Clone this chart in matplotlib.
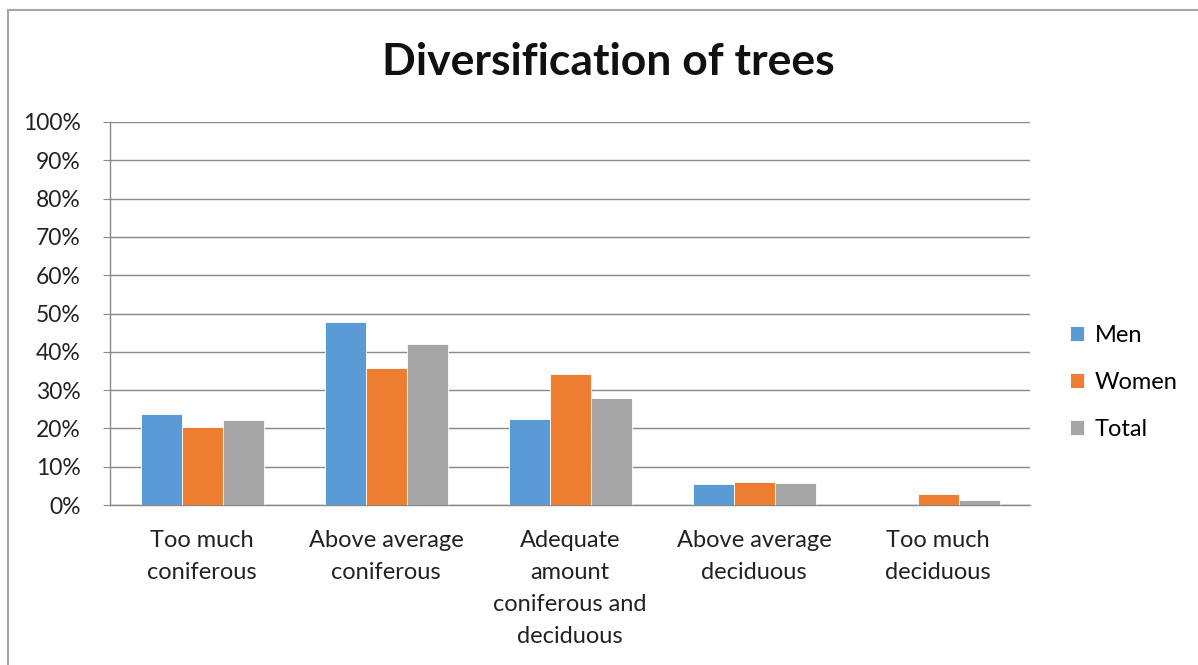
import matplotlib.pyplot as plt
import numpy as np
from matplotlib.lines import Line2D

categories = ["Too much\nconiferous", "Above average\nconiferous",
              "Adequate\namount\nconiferous and\ndeciduous",
              "Above average\ndeciduous", "Too much\ndeciduous"]
men = [23.8, 47.7, 22.4, 5.5, 0.0]
women = [20.3, 35.8, 34.3, 6.1, 3.0]
total = [22.1, 42.1, 28.0, 5.8, 1.3]
series_names = ["Men", "Women", "Total"]
colors = ["#5b9bd5", "#ed7d31", "#a5a5a5"]
y_ticks = [0, 10, 20, 30, 40, 50, 60, 70, 80, 90, 100]

plt.rcParams['font.family'] = ['Lato', 'DejaVu Sans']

fig = plt.figure(figsize=(11.98, 6.65), dpi=100)
ax = fig.add_axes([110 / 1198, 1 - 505 / 665, 920 / 1198, 383 / 665])

x = np.arange(len(categories))
w = 41 / 184
for i, (vals, name, c) in enumerate(zip([men, women, total], series_names, colors)):
    ax.bar(x + (i - 1) * w, vals, width=w, color=c, label=name,
           edgecolor="white", linewidth=0.6, zorder=3)

ax.set_xlim(-0.5, len(categories) - 0.5)
ax.set_ylim(0, 100)
ax.set_yticks(y_ticks)
ax.set_yticklabels([f"{t}%" for t in y_ticks], fontsize=16.5, color="#222222")
ax.set_xticks(x)
ax.set_xticklabels(categories, fontsize=17, color="#222222", linespacing=1.65, va="top")
ax.tick_params(axis="x", length=0, pad=18)
ax.tick_params(axis="y", length=5, color="#898989", pad=16)
ax.grid(axis="y", color="#898989", linewidth=1.0, zorder=0)
for s in ["top", "right"]:
    ax.spines[s].set_visible(False)
for s in ["left", "bottom"]:
    ax.spines[s].set_color("#898989")
    ax.spines[s].set_linewidth(1.0)

fig.text(608 / 1198, 1 - 62 / 665, "Diversification of trees", ha="center", va="center",
         fontsize=32, fontweight="bold", color="#111111")

ax.legend(loc="center left", bbox_to_anchor=(1.02, 0.32), frameon=False, fontsize=17,
          handlelength=0.6, handleheight=0.6, labelspacing=1.1, handletextpad=0.45)

# chart border
fig.add_artist(Line2D([8 / 1198, 1], [1 - 10 / 665, 1 - 10 / 665], color="#a6a6a6", linewidth=1.5))
fig.add_artist(Line2D([8 / 1198, 8 / 1198], [0, 1 - 10 / 665], color="#a6a6a6", linewidth=1.5))

fig.savefig("out.png", dpi=100)
